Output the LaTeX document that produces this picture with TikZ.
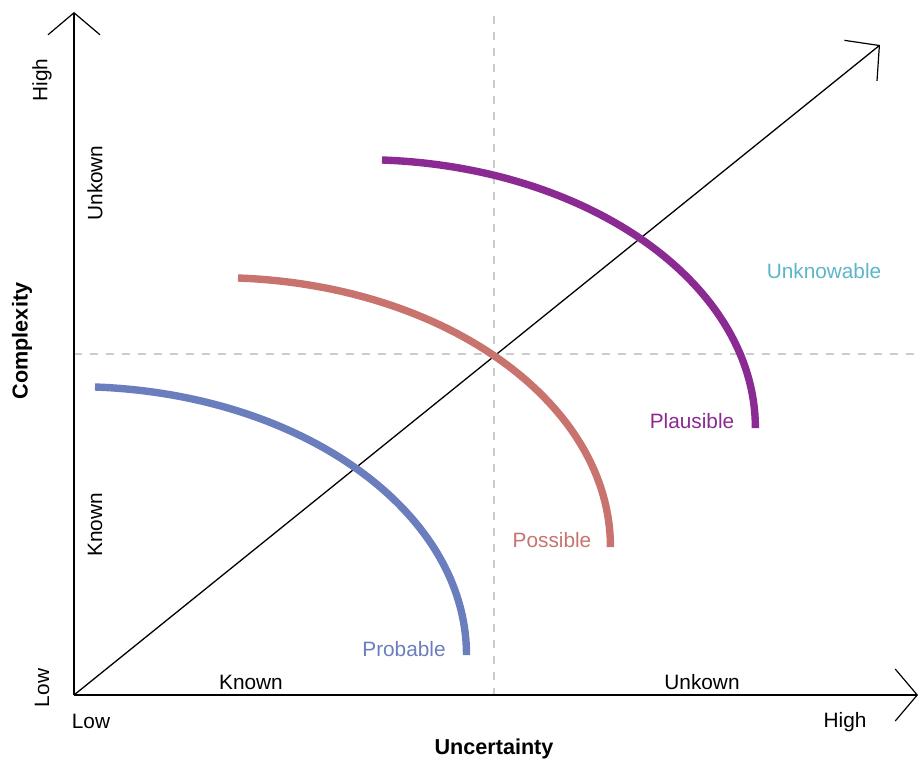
\documentclass[tikz,border=0pt]{standalone}
\usepackage{fontspec}
\setmainfont{Liberation Sans}
\usetikzlibrary{arrows.meta}

\definecolor{probblue}{HTML}{6A7EBE}
\definecolor{possred}{HTML}{C9736F}
\definecolor{plauspurple}{HTML}{8A2A92}
\definecolor{unkteal}{HTML}{5CB6C8}

\begin{document}
\begin{tikzpicture}[x=0.5pt,y=0.5pt,font=\fontsize{10.4}{12}\selectfont,
  axis/.style={line width=1pt,-{Straight Barb[length=11pt,width=26pt,line width=0.6pt]}},
  grid/.style={gray!40,line width=0.6pt,dash pattern=on 4pt off 4pt},
  band/.style={line width=3.7pt}]
\useasboundingbox (0,0) rectangle (924,760);
% Origin and ends of the three axes
\coordinate (o) at (74,65);
\coordinate (ytop) at (74,748);
\coordinate (xend) at (918,65);
\coordinate (dend) at (880,715);
% Dashed quadrant lines
\draw[grid] (494,744) coordinate (vtop) -- (494,65) coordinate (vbot);
\draw[grid] (74,406) coordinate (hleft) -- (918,406) coordinate (hright);
% Axes and diagonal
\draw[axis] (o) -- (ytop);
\draw[axis] (o) -- (xend);
\draw[line width=0.65pt,-{Straight Barb[length=12pt,width=26pt,line width=0.6pt]}] (o) -- (dend);
% Three arcs of the same ellipse, shifted along the diagonal
\draw[band,probblue] (95,373) coordinate (pba) arc[start angle=87,end angle=0,x radius=392,y radius=268.5];
\draw[band,possred] (238,482) coordinate (psa) arc[start angle=87,end angle=0,x radius=393,y radius=269.5];
\draw[band,plauspurple] (382,600) coordinate (pla) arc[start angle=87,end angle=0,x radius=394,y radius=268.5];
% Labels of the arcs
\node[probblue] (probable) at (404,111) {Probable};
\node[possred] (possible) at (552,220) {Possible};
\node[plauspurple] (plausible) at (692,339) {Plausible};
\node[unkteal] (unknowable) at (824,489) {Unknowable};
% Labels along the vertical axis
\node[rotate=90] (yhigh) at (42,680) {High};
\node[rotate=90] (ylow) at (42,72) {Low};
\node[rotate=90] (yunk) at (95,577) {Unkown};
\node[rotate=90] (yknown) at (95,235) {Known};
\node[rotate=90,font=\fontsize{10.8}{12}\selectfont\bfseries] (ytitle) at (22,419) {Complexity};
% Labels along the horizontal axis
\node (xlow) at (91,39) {Low};
\node (xhigh) at (845,38) {High};
\node (xknown) at (251,78) {Known};
\node (xunk) at (702,78) {Unkown};
\node[font=\fontsize{10.8}{12}\selectfont\bfseries] (xtitle) at (494,11) {Uncertainty};
\end{tikzpicture}
\end{document}
